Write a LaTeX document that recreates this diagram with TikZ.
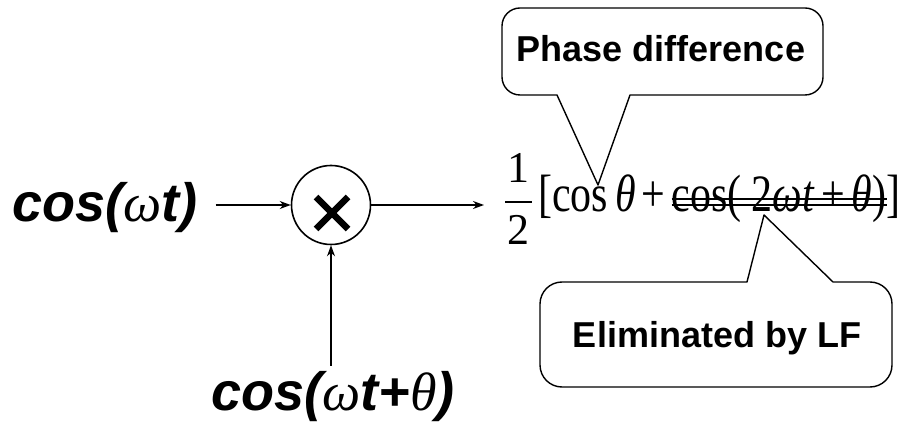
\documentclass[tikz,border=0pt]{standalone}
\usepackage{fontspec}
\usepackage{graphicx}
\setmainfont{Liberation Serif}
\newfontfamily\lsans{Liberation Sans}
\usetikzlibrary{arrows.meta,calc}
\newcommand{\vstr}[1]{\scalebox{1}[1.25]{#1}}
\begin{document}
\begin{tikzpicture}[x=1pt,y=1pt,
  arr/.style={-{Stealth[length=11pt,width=8pt]}, line width=1.3pt},
  lab/.style={inner sep=0pt, font=\lsans\bfseries\itshape\fontsize{54}{54}\selectfont},
  callline/.style={line width=1.4pt, line join=round},
  calltext/.style={inner sep=0pt, font=\lsans\bfseries\fontsize{36}{36}\selectfont},
  fm/.style={inner sep=0pt, font=\fontsize{42}{42}\selectfont},
  fd/.style={inner sep=0pt, font=\fontsize{44}{44}\selectfont},
  strike/.style={line width=1.3pt}]
\useasboundingbox (0,0) rectangle (901,423);

% inputs
\node[lab, anchor=base west] (in1) at (12,201) {cos({\rmfamily\mdseries ω}t)};
\node[lab, anchor=base] (in2) at (333,13) {cos({\rmfamily\mdseries ω}t+{\rmfamily\mdseries θ})};

% multiplier
\node[draw, circle, line width=1.6pt, minimum size=79pt, inner sep=0pt] (mul) at (331,218) {};
\draw[line width=6.5pt] ($(mul.center)+(-15,8)$) -- ($(mul.center)+(17,-24)$);
\draw[line width=6.5pt] ($(mul.center)+(-15,-24)$) -- ($(mul.center)+(17,8)$);

% arrows
\draw[arr, shorten <=18pt] (in1.east |- mul.west) -- (mul.west);
\draw[arr, shorten <=5pt] (in2.north -| mul.south) -- (mul.south);
\coordinate (outend) at (484,218);
\draw[arr] (mul.east) -- (outend);

% formula
\node[fd, anchor=base] (num) at (518,240) {1};
\node[fd, anchor=base] (den) at (518,178) {2};
\draw[line width=1.3pt] (505,221) -- (532,221);
\node[fm, anchor=base west] (lb) at (538,211) {\vstr{[cos\hspace{7pt}{\itshape θ}\hspace{6pt}+\hspace{6pt}}};
\node[fm, anchor=base west] (st) at (lb.base east) {\vstr{cos(\hspace{10pt}2{\itshape ωt}\hspace{7pt}+\hspace{7pt}{\itshape θ})}};
\node[fm, anchor=base west] (rb) at (st.base east) {\vstr{]}};
\draw[strike] ($(st.base west)+(0,7)$) -- ($(st.base east)+(0,7)$);
\draw[strike] ($(st.base west)+(0,13)$) -- ($(st.base east)+(0,13)$);

% callout: phase difference
\coordinate (tip1) at (598,238);
\node[calltext, anchor=base] (ph) at (661,361) {Phase difference};
\draw[callline] (557,328) -- (520,328) arc[start angle=270, end angle=180, radius=18]
  -- (502,397) arc[start angle=180, end angle=90, radius=18]
  -- (805,415) arc[start angle=90, end angle=0, radius=18]
  -- (823,346) arc[start angle=0, end angle=-90, radius=18]
  -- (630,328) -- (tip1) -- cycle;

% callout: eliminated by LF
\coordinate (tip2) at (764,208);
\node[calltext, anchor=base] (el) at (717,76) {Eliminated by LF};
\draw[callline] (747,141) -- (562,141) arc[start angle=90, end angle=180, radius=22]
  -- (540,58) arc[start angle=180, end angle=270, radius=22]
  -- (870,36) arc[start angle=270, end angle=360, radius=22]
  -- (892,119) arc[start angle=0, end angle=90, radius=22]
  -- (833,141) -- (tip2) -- cycle;
\end{tikzpicture}
\end{document}
